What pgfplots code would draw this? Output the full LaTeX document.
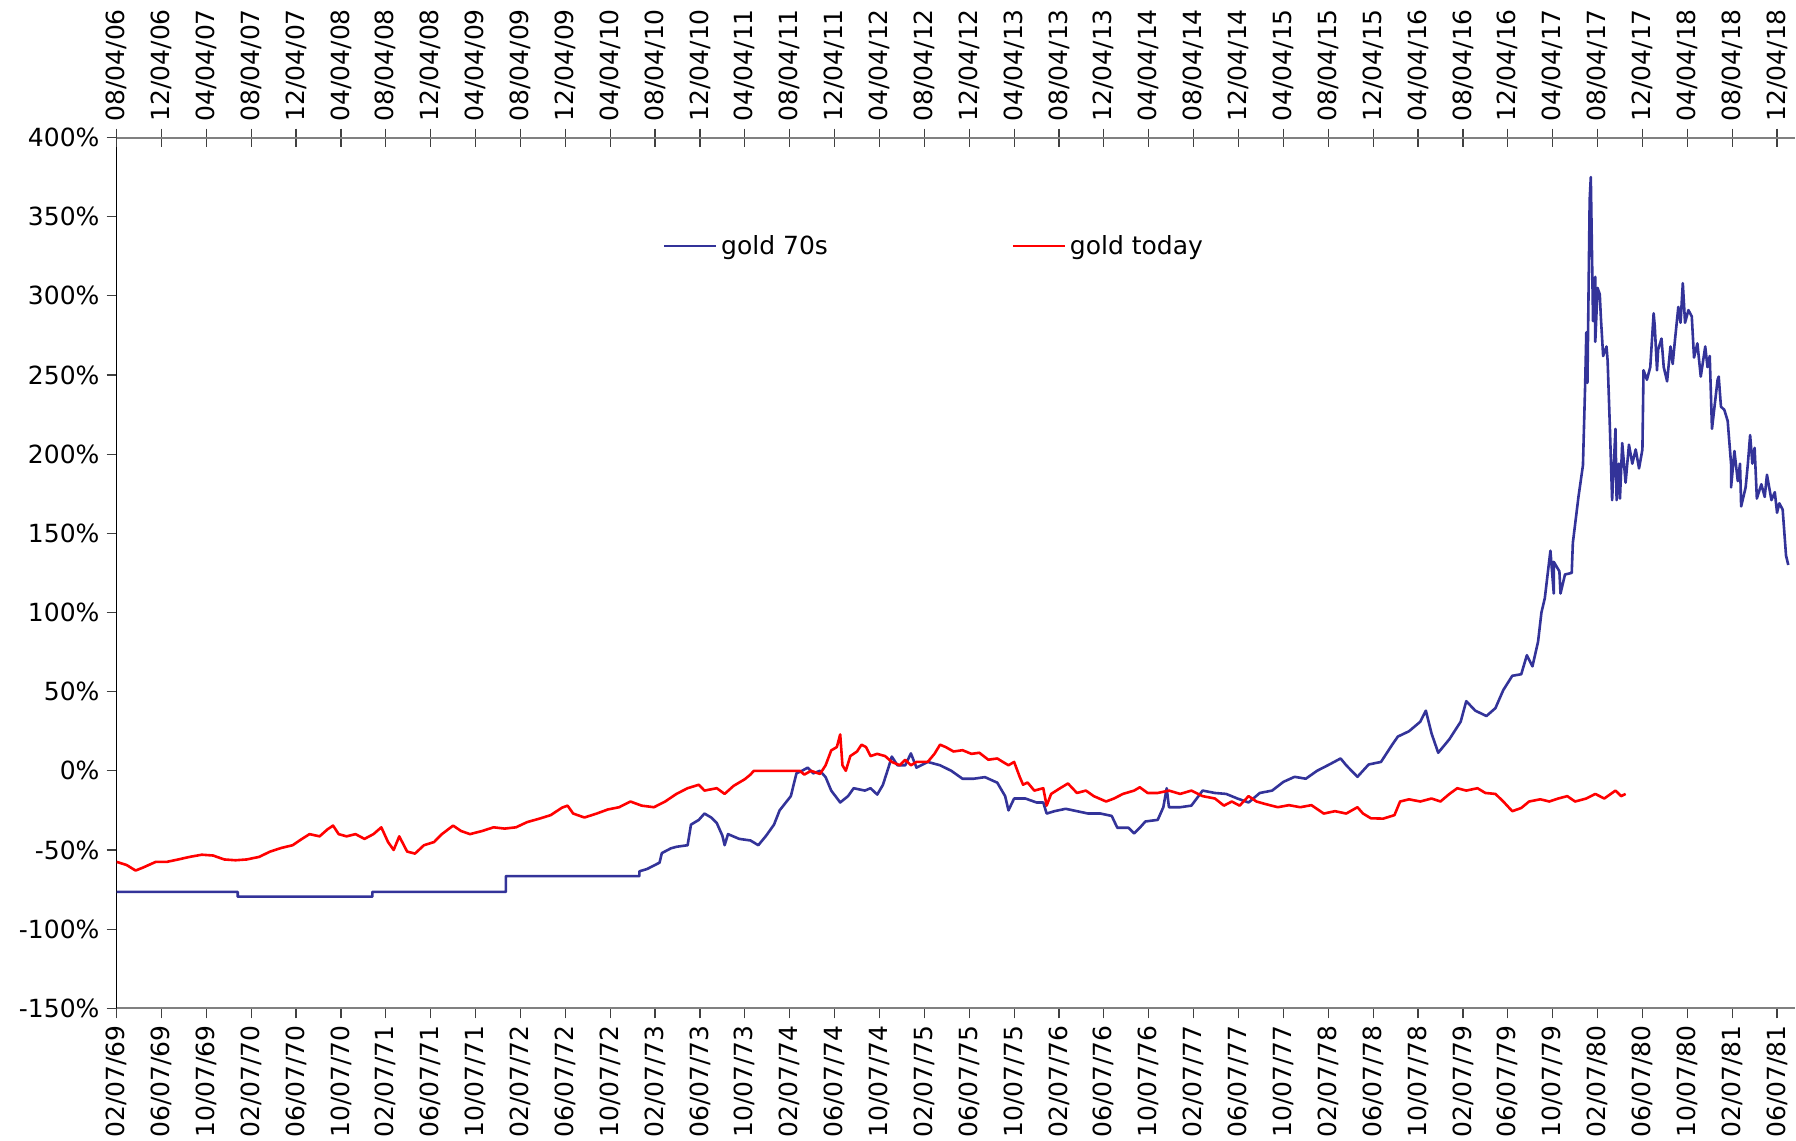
\documentclass[border=0pt]{standalone}
\usepackage{fontspec}
\setmainfont{DejaVu Sans}
\usepackage{pgfplots}
\pgfplotsset{compat=1.18}
\definecolor{goldblue}{RGB}{51,51,153}
\definecolor{goldred}{RGB}{255,0,0}
\newcommand{\lblfont}{\fontsize{12.5}{15}\selectfont}
\begin{document}
\begin{tikzpicture}
\begin{axis}[
  at={(0,0)}, anchor=south west,
  scale only axis, width=839pt, height=435.25pt,
  xmin=0, xmax=149.6, ymin=-150, ymax=400,
  axis x line*=bottom, axis y line*=left,
  x axis line style={-, draw=gray, line width=1pt},
  y axis line style={-, draw=black, line width=0.6pt},
  xtick={0,4,...,148},
  xticklabels={02/07/69,06/07/69,10/07/69,02/07/70,06/07/70,10/07/70,02/07/71,06/07/71,10/07/71,02/07/72,06/07/72,10/07/72,02/07/73,06/07/73,10/07/73,02/07/74,06/07/74,10/07/74,02/07/75,06/07/75,10/07/75,02/07/76,06/07/76,10/07/76,02/07/77,06/07/77,10/07/77,02/07/78,06/07/78,10/07/78,02/07/79,06/07/79,10/07/79,02/07/80,06/07/80,10/07/80,02/07/81,06/07/81},
  xticklabel style={rotate=90, anchor=east, font=\lblfont},
  ytick={-150,-100,...,400},
  yticklabels={-150\%,-100\%,-50\%,0\%,50\%,100\%,150\%,200\%,250\%,300\%,350\%,400\%},
  yticklabel style={font=\lblfont},
  tick align=outside, major tick length=5pt,
  tick style={black!75, line width=0.6pt},
  legend columns=2,
  legend style={draw=none, fill=none, at={(axis description cs:0.322,0.875)}, anchor=west, font=\lblfont,
    /tikz/every even column/.append style={column sep=90pt}},
  legend image code/.code={\draw[#1, line width=0.9pt] (0pt,0pt) -- (26pt,0pt);},
]
\addplot[goldblue, line width=1.3pt, line join=round] table {
0 -76.5
10.8 -76.5
10.8 -79.5
22.8 -79.5
22.8 -76.5
34.7 -76.5
34.7 -66.5
46.6 -66.5
46.6 -63.5
47.3 -62
48.4 -58
48.6 -52
49.4 -49
49.9 -48
50.9 -47
51.2 -34
51.9 -31
52.4 -27
53.0 -29.5
53.5 -33
54.0 -41
54.2 -47
54.5 -40
55.5 -43
56.5 -44
57.2 -47
57.9 -41
58.6 -34
59.1 -25
60.1 -16
60.6 -1.6
61.1 0
61.6 2
62.1 -1.6
62.7 0
63.2 -4
63.7 -12.5
64.5 -20
65.2 -16
65.7 -11
66.7 -12.5
67.2 -11
67.8 -15
68.3 -9
68.8 2
69.1 9
69.6 3.5
70.3 3.5
70.8 11
71.3 2
72.3 5.6
73.4 3.5
74.4 0
75.4 -5
76.4 -5
77.4 -4
78.5 -7.5
79.2 -16
79.5 -25
80.0 -17.5
81.0 -17.5
82.0 -20
82.6 -20
82.9 -27
83.6 -25.5
84.6 -24
85.6 -25.5
86.6 -27
87.7 -27
88.7 -28.5
89.2 -36
90.2 -36
90.7 -39.5
91.2 -36
91.7 -32
92.8 -31
93.3 -23
93.6 -11
93.8 -23
94.8 -23
95.8 -22
96.8 -12.5
97.9 -14
98.9 -14.6
99.9 -17.5
100.9 -20
101.9 -14
103.0 -12.5
104.0 -7
105.0 -3.8
106.0 -5
107.0 0
108.1 4
109.1 7.8
109.6 3.5
110.6 -3.8
111.6 4
112.7 5.6
113.7 16.5
114.2 21.6
115.2 25
116.2 31
116.7 38
117.2 23.7
117.8 11.4
118.8 20
119.8 31
120.3 44
121.1 38
122.1 34.6
122.9 39.6
123.6 51
124.4 60
125.2 61
125.7 73
126.2 66
126.7 81.6
127.0 100
127.3 109
127.8 139
128.1 112
128.1 132
128.6 126
128.7 112
129.1 124
129.7 125
129.8 144
130.3 173
130.7 193
130.9 245
131.0 277
131.1 245
131.3 361
131.4 375
131.6 284
131.8 312
131.8 271
132.0 305
132.2 301
132.3 286
132.5 262
132.8 268
132.9 259
133.1 217
133.3 171
133.6 216
133.7 171
133.9 194
134.0 172
134.2 207
134.5 182
134.8 206
135.1 194
135.4 203
135.7 191
136.0 203
136.1 253
136.4 247
136.7 255
137.0 289
137.1 281
137.3 253
137.4 266
137.7 273
137.9 255
138.2 246
138.5 268
138.7 257
138.9 272
139.2 293
139.4 283
139.6 308
139.8 283
140.1 291
140.4 287
140.6 261
140.9 270
141.2 249
141.6 268
141.8 255
142.0 262
142.2 216
142.7 247
142.8 249
143.0 230
143.3 228
143.6 221
143.9 194
143.9 179
144.2 202
144.5 183
144.7 194
144.8 167
145.2 179
145.4 194
145.6 212
145.8 194
146.0 204
146.2 172
146.6 181
146.9 173
147.1 187
147.5 171
147.8 176
148.0 163
148.2 169
148.5 165
148.8 136
149.0 130
};
\addlegendentry{gold 70s}
\addplot[goldred, line width=1.3pt, line join=round] table {
0 -57.5
0.9 -59.5
1.7 -63
2.4 -61
3.5 -57.5
4.5 -57.5
5.5 -56
6.5 -54.4
7.6 -53
8.6 -53.5
9.6 -56
10.6 -56.5
11.6 -56
12.7 -54.4
13.7 -51
14.7 -48.7
15.7 -47
16.4 -43.6
17.2 -40
18.1 -41.4
18.8 -37
19.3 -34.6
19.8 -40
20.5 -41.4
21.3 -40
22.1 -43
22.9 -40
23.6 -35.7
24.2 -45
24.7 -50
25.2 -41.4
25.9 -51
26.6 -52.3
27.4 -47
28.3 -45
29.0 -40
30.0 -34.6
30.7 -38
31.5 -40
32.6 -38
33.6 -35.7
34.6 -36.5
35.6 -35.7
36.6 -32.4
37.7 -30.2
38.7 -28
39.7 -23.3
40.2 -22
40.7 -27
41.7 -29.5
42.8 -27
43.8 -24.4
44.8 -23
45.8 -19.4
46.8 -22
47.9 -23
48.9 -19.4
49.9 -14.6
50.9 -11
51.9 -8.8
52.4 -12.5
53.5 -11
54.2 -14.6
55.0 -9.5
56.0 -5.3
56.5 -2.4
56.8 0
60.9 0
61.3 -2.4
61.9 0
62.7 -2
63.2 3.5
63.7 12.9
64.2 15
64.5 23
64.7 3.5
65.0 0
65.4 9.3
66.0 12.2
66.4 16.5
66.8 15
67.2 9.3
67.8 10.7
68.5 9.3
69.1 5.6
69.8 3.5
70.3 7
70.8 3.5
71.3 5.6
72.3 5.6
72.9 10.7
73.4 16.5
73.9 15
74.6 12.2
75.4 13
76.2 10.7
76.9 11.4
77.7 7
78.5 7.8
79.0 5.6
79.5 3.5
80.0 5.6
80.5 -3.8
80.8 -8.8
81.2 -7.4
81.8 -12.5
82.6 -11
82.9 -22
83.3 -14.6
84.1 -11
84.8 -8
85.6 -14
86.4 -12.5
87.1 -16
88.2 -19.4
88.9 -17.5
89.7 -14.6
90.7 -12.5
91.2 -10.4
91.9 -14
92.8 -14
93.8 -12.5
94.8 -14.6
95.8 -12.5
96.8 -16
97.9 -17.5
98.7 -22
99.4 -19.4
100.1 -22
100.9 -16
101.6 -19.4
102.4 -21
103.5 -23
104.5 -21.7
105.5 -23
106.5 -21.7
107.6 -27
108.6 -25.5
109.6 -27
110.6 -23
111.1 -27
111.8 -30
112.9 -30.2
113.9 -28
114.4 -19.4
115.2 -18
116.2 -19.4
117.2 -17.5
118.0 -19.4
118.8 -14.6
119.5 -11
120.3 -12.5
121.3 -11
122.0 -14
122.9 -14.6
123.6 -19.4
124.4 -25.5
125.2 -23.5
125.9 -19.4
126.9 -18
127.7 -19.4
128.5 -17.5
129.3 -16
130.0 -19.4
131.0 -17.5
131.8 -14.6
132.6 -17.5
133.6 -12.5
134.1 -16
134.5 -14.6
};
\addlegendentry{gold today}
\end{axis}
\begin{axis}[
  at={(0,0)}, anchor=south west,
  scale only axis, width=839pt, height=435.25pt,
  xmin=0, xmax=149.6, ymin=-150, ymax=400,
  axis x line*=top, axis y line=none,
  x axis line style={-, draw=gray, line width=1pt},
  xtick={0,4,...,148},
  xticklabels={08/04/06,12/04/06,04/04/07,08/04/07,12/04/07,04/04/08,08/04/08,12/04/08,04/04/09,08/04/09,12/04/09,04/04/10,08/04/10,12/04/10,04/04/11,08/04/11,12/04/11,04/04/12,08/04/12,12/04/12,04/04/13,08/04/13,12/04/13,04/04/14,08/04/14,12/04/14,04/04/15,08/04/15,12/04/15,04/04/16,08/04/16,12/04/16,04/04/17,08/04/17,12/04/17,04/04/18,08/04/18,12/04/18},
  xticklabel style={rotate=90, anchor=west, font=\lblfont},
  tick align=center, major tick length=9pt,
  tick style={black!75, line width=0.6pt},
]
\end{axis}
\pgfresetboundingbox
\path (-58.25pt,-66pt) rectangle (839.5pt,504pt);
\end{tikzpicture}
\end{document}
